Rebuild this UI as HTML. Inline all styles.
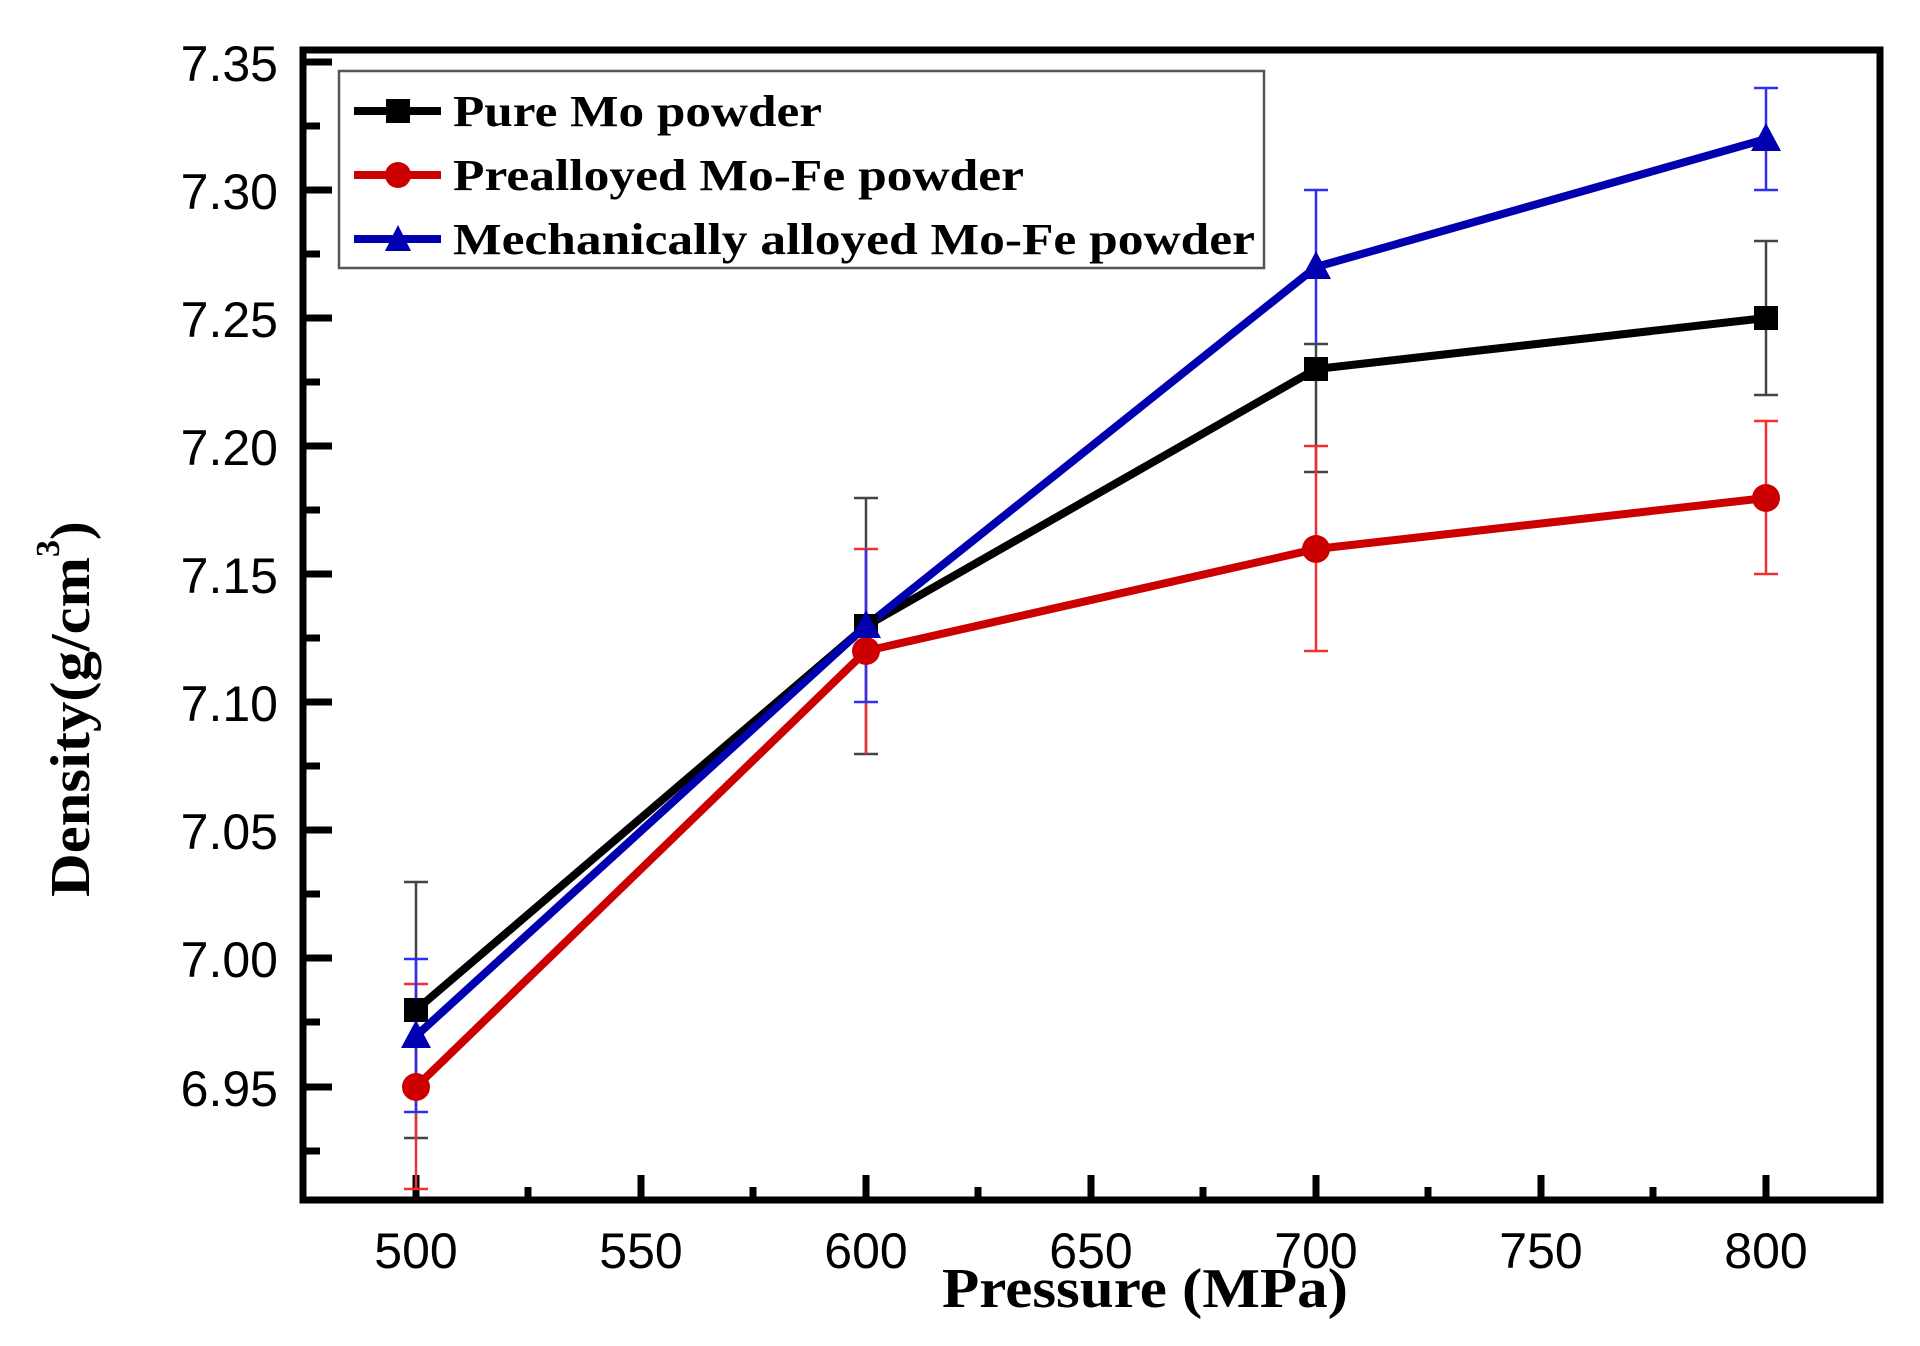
<!DOCTYPE html>
<html><head><meta charset="utf-8"><style>html,body{margin:0;padding:0;background:#fff}svg{display:block}</style></head>
<body>
<svg width="1920" height="1346" viewBox="0 0 1920 1346" xmlns="http://www.w3.org/2000/svg">
<rect width="1920" height="1346" fill="#fff"/>
<!-- frame -->
<rect x="303" y="50" width="1577" height="1150" fill="none" stroke="#000" stroke-width="7"/>
<!-- y ticks -->
<g stroke="#000" stroke-width="7">
<line x1="303" y1="62" x2="332" y2="62"/><line x1="303" y1="126" x2="320" y2="126"/>
<line x1="303" y1="190" x2="332" y2="190"/><line x1="303" y1="254" x2="320" y2="254"/>
<line x1="303" y1="318" x2="332" y2="318"/><line x1="303" y1="382" x2="320" y2="382"/>
<line x1="303" y1="446" x2="332" y2="446"/><line x1="303" y1="510" x2="320" y2="510"/>
<line x1="303" y1="574" x2="332" y2="574"/><line x1="303" y1="638" x2="320" y2="638"/>
<line x1="303" y1="702" x2="332" y2="702"/><line x1="303" y1="766" x2="320" y2="766"/>
<line x1="303" y1="830" x2="332" y2="830"/><line x1="303" y1="894" x2="320" y2="894"/>
<line x1="303" y1="958" x2="332" y2="958"/><line x1="303" y1="1022" x2="320" y2="1022"/>
<line x1="303" y1="1087" x2="332" y2="1087"/><line x1="303" y1="1151" x2="320" y2="1151"/>
<!-- x ticks -->
<line x1="416" y1="1200" x2="416" y2="1175"/><line x1="528" y1="1200" x2="528" y2="1187"/>
<line x1="641" y1="1200" x2="641" y2="1175"/><line x1="753" y1="1200" x2="753" y2="1187"/>
<line x1="866" y1="1200" x2="866" y2="1175"/><line x1="978" y1="1200" x2="978" y2="1187"/>
<line x1="1091" y1="1200" x2="1091" y2="1175"/><line x1="1203" y1="1200" x2="1203" y2="1187"/>
<line x1="1316" y1="1200" x2="1316" y2="1175"/><line x1="1428" y1="1200" x2="1428" y2="1187"/>
<line x1="1541" y1="1200" x2="1541" y2="1175"/><line x1="1653" y1="1200" x2="1653" y2="1187"/>
<line x1="1766" y1="1200" x2="1766" y2="1175"/>
</g>
<!-- y tick labels -->
<g font-family="Liberation Sans, sans-serif" font-size="50" text-anchor="end" fill="#000">
<text x="278" y="81">7.35</text><text x="278" y="209">7.30</text><text x="278" y="337">7.25</text>
<text x="278" y="465">7.20</text><text x="278" y="593">7.15</text><text x="278" y="721">7.10</text>
<text x="278" y="849">7.05</text><text x="278" y="977">7.00</text><text x="278" y="1106">6.95</text>
</g>
<g font-family="Liberation Sans, sans-serif" font-size="50" text-anchor="middle" fill="#000">
<text x="416" y="1268">500</text><text x="641" y="1268">550</text><text x="866" y="1268">600</text>
<text x="1091" y="1268">650</text><text x="1316" y="1268">700</text><text x="1541" y="1268">750</text><text x="1766" y="1268">800</text>
</g>
<text x="942" y="1307" font-family="Liberation Serif, serif" font-weight="bold" font-size="56" textLength="406" lengthAdjust="spacingAndGlyphs">Pressure (MPa)</text>
<text transform="translate(89,897) rotate(-90)" font-family="Liberation Serif, serif" font-weight="bold" font-size="56"><tspan textLength="340" lengthAdjust="spacingAndGlyphs">Density(g/cm</tspan><tspan font-size="34" dy="-30">3</tspan><tspan dy="30">)</tspan></text>
<!-- error bars -->
<g stroke-width="2.5">
<g stroke="#444">
<line x1="416" y1="882" x2="416" y2="1138"/><line x1="404" y1="882" x2="428" y2="882"/><line x1="404" y1="1138" x2="428" y2="1138"/>
<line x1="866" y1="498" x2="866" y2="754"/><line x1="854" y1="498" x2="878" y2="498"/><line x1="854" y1="754" x2="878" y2="754"/>
<line x1="1316" y1="344" x2="1316" y2="472"/><line x1="1304" y1="344" x2="1328" y2="344"/><line x1="1304" y1="472" x2="1328" y2="472"/>
<line x1="1766" y1="241" x2="1766" y2="395"/><line x1="1754" y1="241" x2="1778" y2="241"/><line x1="1754" y1="395" x2="1778" y2="395"/>
</g>
<g stroke="#f03030">
<line x1="416" y1="984" x2="416" y2="1189"/><line x1="404" y1="984" x2="428" y2="984"/><line x1="404" y1="1189" x2="428" y2="1189"/>
<line x1="866" y1="549" x2="866" y2="754"/><line x1="854" y1="549" x2="878" y2="549"/>
<line x1="1316" y1="446" x2="1316" y2="651"/><line x1="1304" y1="446" x2="1328" y2="446"/><line x1="1304" y1="651" x2="1328" y2="651"/>
<line x1="1766" y1="421" x2="1766" y2="574"/><line x1="1754" y1="421" x2="1778" y2="421"/><line x1="1754" y1="574" x2="1778" y2="574"/>
</g>
<g stroke="#3030f0">
<line x1="416" y1="959" x2="416" y2="1112"/><line x1="404" y1="959" x2="428" y2="959"/><line x1="404" y1="1112" x2="428" y2="1112"/>
<line x1="866" y1="549" x2="866" y2="702"/><line x1="854" y1="702" x2="878" y2="702"/>
<line x1="1316" y1="190" x2="1316" y2="344"/><line x1="1304" y1="190" x2="1328" y2="190"/>
<line x1="1766" y1="88" x2="1766" y2="190"/><line x1="1754" y1="88" x2="1778" y2="88"/><line x1="1754" y1="190" x2="1778" y2="190"/>
</g>
</g>
<!-- series lines -->
<polyline points="416,1010 866,626 1316,369 1766,318" fill="none" stroke="#000" stroke-width="8"/>
<polyline points="416,1087 866,651 1316,549 1766,498" fill="none" stroke="#cc0000" stroke-width="8"/>
<polyline points="416,1036 866,626 1316,267 1766,139" fill="none" stroke="#0000b0" stroke-width="8"/>
<!-- markers -->
<g fill="#000">
<rect x="404" y="998" width="24" height="24"/><rect x="854" y="614" width="24" height="24"/>
<rect x="1304" y="357" width="24" height="24"/><rect x="1754" y="306" width="24" height="24"/>
</g>
<g fill="#cc0000">
<circle cx="416" cy="1087" r="14"/><circle cx="866" cy="651" r="14"/><circle cx="1316" cy="549" r="14"/><circle cx="1766" cy="498" r="14"/>
</g>
<g fill="#0000b0">
<polygon points="416,1020 401,1048 431,1048"/><polygon points="866,610 851,638 881,638"/>
<polygon points="1316,251 1301,279 1331,279"/><polygon points="1766,123 1751,151 1781,151"/>
</g>
<!-- legend -->
<rect x="339" y="71" width="925" height="197" fill="#fff" stroke="#555" stroke-width="2.5"/>
<line x1="354" y1="111" x2="441" y2="111" stroke="#000" stroke-width="8"/><rect x="386" y="99" width="24" height="24" fill="#000"/>
<line x1="354" y1="175" x2="441" y2="175" stroke="#cc0000" stroke-width="8"/><circle cx="398" cy="175" r="13" fill="#cc0000"/>
<line x1="354" y1="239" x2="441" y2="239" stroke="#0000b0" stroke-width="8"/><polygon points="398,225 385,251 411,251" fill="#0000b0"/>
<g font-family="Liberation Serif, serif" font-weight="bold" font-size="44" fill="#000">
<text x="453" y="126" textLength="369" lengthAdjust="spacingAndGlyphs">Pure Mo powder</text>
<text x="453" y="190" textLength="571" lengthAdjust="spacingAndGlyphs">Prealloyed Mo-Fe powder</text>
<text x="453" y="254" textLength="802" lengthAdjust="spacingAndGlyphs">Mechanically alloyed Mo-Fe powder</text>
</g>
</svg>
</body></html>
